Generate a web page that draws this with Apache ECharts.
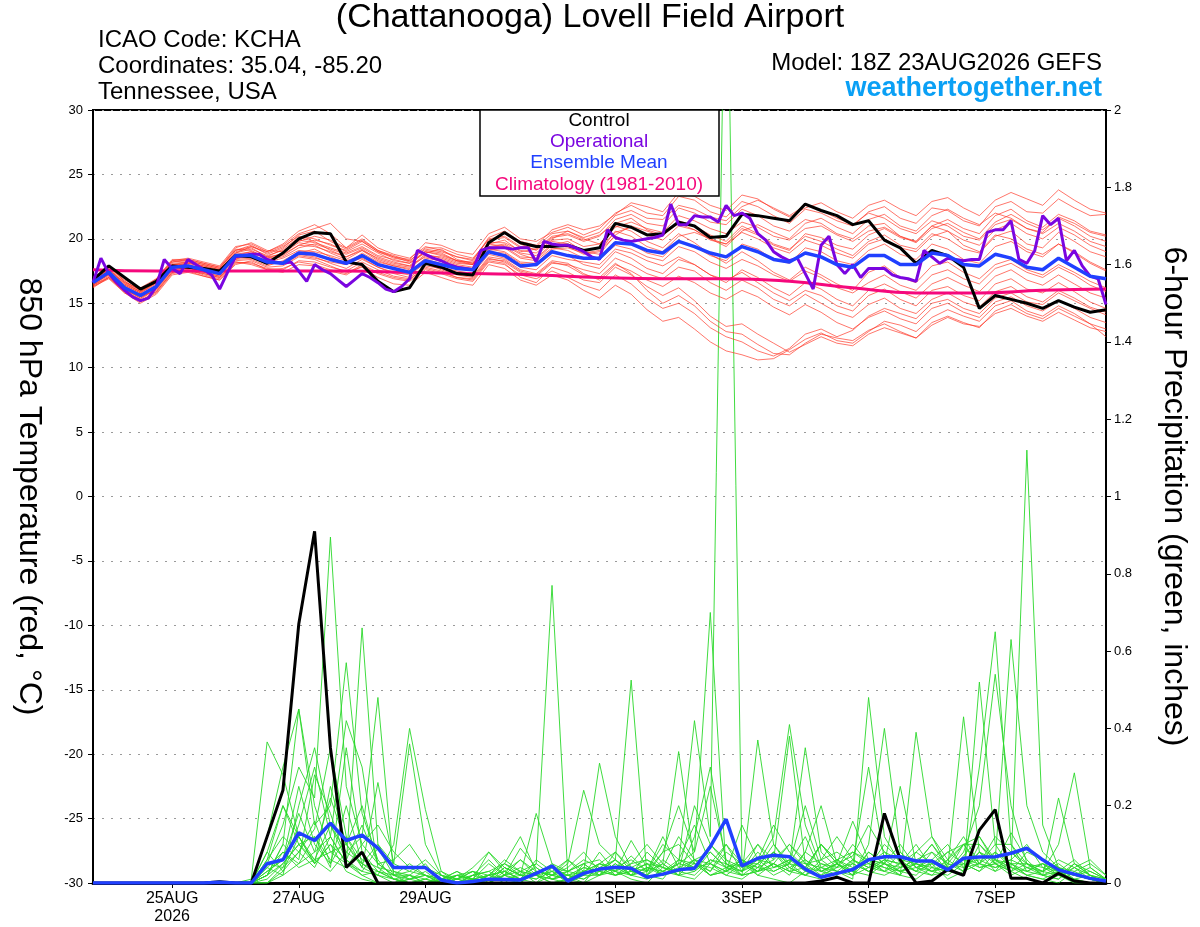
<!DOCTYPE html>
<html>
<head>
<meta charset="utf-8">
<script src="https://cdn.jsdelivr.net/npm/echarts@6/dist/echarts.min.js"></script>
<style>
html,body{margin:0;padding:0;background:#fff}
#chart{width:1200px;height:927px}
</style>
</head>
<body>
<div id="chart"></div>
<script>
// 3-hourly steps from 18Z 23AUG2026 to 18Z 08SEP2026
var stepCount = 129;
var tickSteps = [10, 26, 42, 66, 82, 98, 114];
var tickLabels = ['25AUG\n2026', '27AUG', '29AUG', '1SEP', '3SEP', '5SEP', '7SEP'];

// control run, 850 hPa temp (6-hourly)
var controlTemp = [16.8,17.9,17.0,16.1,16.7,17.9,17.8,17.7,17.5,18.7,18.6,18.1,18.9,20.0,20.5,20.4,18.2,18.0,16.7,15.9,
  16.2,18.1,17.8,17.3,17.2,19.7,20.5,19.7,19.4,19.4,19.5,19.1,19.3,21.2,20.9,20.3,20.4,21.3,21.0,20.1,
  20.2,21.9,21.8,21.6,21.4,22.7,22.2,21.8,21.1,21.4,19.9,19.3,18.1,19.1,18.7,17.8,14.6,15.6,15.3,15.0,
  14.6,15.2,14.7,14.3,14.5];

// operational run (3-hourly)
var operTemp = [16.6,18.5,17.3,16.6,16.0,15.5,15.2,15.4,16.3,18.4,17.7,17.3,18.4,18.0,17.6,17.2,16.1,17.4,18.6,18.7,
  18.8,18.8,18.4,18.2,18.1,18.2,17.5,16.7,18.0,17.6,17.3,16.8,16.3,16.8,17.3,17.0,16.6,16.1,15.9,16.3,
  16.9,19.1,18.8,18.5,18.3,18.0,17.8,17.7,17.6,19.1,19.3,19.3,19.3,19.2,19.3,19.3,18.2,19.8,19.6,19.5,
  19.5,19.3,19.0,18.6,18.4,20.7,20.1,19.9,19.8,19.9,20.0,20.1,20.3,22.7,21.1,21.1,21.8,21.7,21.7,21.3,
  22.6,21.8,22.0,21.6,20.4,19.9,19.0,18.6,18.3,18.5,17.3,16.1,19.5,20.2,18.0,17.3,18.0,17.0,17.7,17.7,
  17.7,17.2,17.0,16.9,16.7,19.1,18.6,18.1,18.5,18.4,18.3,18.4,18.4,20.5,20.7,20.7,21.4,18.4,18.1,19.1,
  21.8,21.1,21.6,18.3,19.1,17.9,17.1,16.9,14.9];

// ensemble mean temp (6-hourly)
var meanTemp = [16.6,17.4,16.2,15.6,16.3,17.8,17.9,17.6,17.3,18.7,18.7,18.2,18.1,18.9,18.8,18.4,18.1,18.7,18.0,17.7,
  17.4,18.3,18.0,17.7,17.6,19.0,18.7,17.9,18.0,19.0,18.7,18.5,18.5,19.7,19.6,19.1,18.9,19.8,19.4,18.9,
  18.6,19.4,19.0,18.4,18.2,18.9,18.6,18.0,17.8,18.7,18.7,18.0,18.0,18.9,18.7,18.0,17.9,18.8,18.5,17.8,
  17.6,18.5,17.8,17.1,16.9];

// climatology 1981-2010 (daily)
var climTemp = [17.6,17.5,17.5,17.5,17.5,17.4,17.3,17.2,17.0,16.9,16.9,16.7,16.2,15.8,15.8,16.0,16.1];

// ensemble members temp (6-hourly)
var tempMembers = [
  [16.9,17.6,16.5,15.9,16.6,18.1,18.2,17.9,17.6, 19.0,19.3,18.6,19.2,20.1,19.8,19.1,18.6,19.2,18.4,18.0,17.8,18.8,18.5,18.1,18.0, 19.6,19.9,19.0,19.2,20.1,20.3,19.8,20.2, 21.5,21.9,21.2,21.0,22.4,22.0,21.3,21.1,22.3,21.8,21.0,20.6,21.5,21.2,20.4,20.0, 21.0,21.2,20.2,19.8,21.0,20.6,19.5,19.0,20.3,20.0,19.2,18.8,19.6,18.9,18.1,17.5],
  [16.3,17.0,15.8,15.2,15.9,17.4,17.6,17.2,16.9, 18.2,18.0,17.6,17.4,18.0,17.9,17.5,17.2,17.9,17.3,16.9,16.7,17.6,17.3,16.9,16.7, 18.2,18.0,17.2,16.9,17.5,17.0,16.4,16.0, 17.2,16.5,15.4,14.6,15.0,14.2,13.1,12.4,12.0,11.3,10.9,11.5,12.6,13.0,12.4,12.9, 14.0,14.6,14.2,13.8,15.0,15.3,14.6,14.2,15.4,15.8,15.1,14.9,15.8,15.2,14.6,14.1],
  [16.8,17.9,16.7,16.0,16.8,18.3,18.5,18.2,17.9, 19.4,19.6,19.0,19.6,20.6,21.1,20.4,19.3,20.0,19.1,18.6,18.4,19.7,19.5,19.0,18.8, 20.4,20.9,20.0,19.8,20.5,20.9,20.3,20.8, 22.0,22.6,22.0,21.8,23.3,23.0,22.1,21.7,22.9,22.5,21.8,21.2,22.3,22.0,21.4,21.0, 22.1,22.5,21.6,21.2,22.4,22.2,21.4,21.0,22.5,22.9,22.1,22.0,23.1,22.4,21.8,21.9],
  [16.5,17.2,16.0,15.3,16.1,17.6,17.8,17.4,17.1, 18.6,18.8,18.3,18.0,18.7,18.5,18.2,18.0,18.9,18.2,17.9,17.6,18.2,17.8,17.5,17.3, 18.8,18.5,17.8,17.6,18.7,18.4,18.2,18.0, 19.2,18.9,18.3,17.9,18.6,18.0,17.2,16.8,17.4,16.6,15.8,15.2,16.0,15.6,14.8,14.4, 15.6,16.1,15.3,14.8,16.0,16.3,15.6,15.2,16.5,16.9,16.1,15.8,16.6,15.9,15.1,14.6],
  [16.7,17.5,16.4,15.8,16.5,18.0,18.0,17.7,17.4, 18.4,18.9,18.5,18.7,19.5,19.9,19.6,19.0,19.6,18.9,18.3,18.1,18.9,19.2,18.4,18.1, 19.3,19.5,18.8,18.4,19.5,19.8,19.0,18.8, 20.3,21.0,20.6,20.2,21.4,21.0,20.3,19.8,21.0,20.4,19.6,19.2,20.2,19.8,19.2,18.7, 19.8,20.3,19.5,19.2,20.4,20.0,19.2,18.9,20.2,20.6,19.6,19.3,20.5,19.8,19.0,18.6],
  [16.4,17.3,16.3,15.7,16.4,17.9,18.1,17.8,17.5, 18.9,19.4,19.0,19.5,20.4,20.8,21.2,20.0,19.8,19.0,18.6,18.2,19.0,18.7,18.3,18.0, 19.8,20.4,19.6,19.1,20.0,20.6,20.0,19.6, 21.0,20.6,19.8,19.3,20.4,19.7,18.8,18.1,19.0,18.3,17.4,16.8,17.8,17.2,16.5,16.0, 17.4,17.9,17.0,16.6,17.9,18.2,17.4,16.9,18.0,18.4,17.6,17.2,18.0,17.4,16.7,16.2],
  [16.2,17.0,15.9,15.1,15.8,17.3,17.5,17.1,16.8, 18.0,18.3,17.8,17.9,18.6,18.4,17.9,17.4,17.8,17.0,16.5,16.4,17.4,17.0,16.6,16.4, 18.0,17.7,16.8,16.4,17.2,16.8,16.0,15.4, 16.4,15.7,14.5,13.6,13.9,13.0,12.0,11.3,11.0,10.6,10.7,11.4,12.2,12.7,12.1,11.9, 12.8,13.6,13.3,12.8,13.9,14.5,14.0,13.6,14.8,15.2,14.4,14.0,14.8,14.2,13.4,12.4],
  [16.9,17.7,16.6,16.1,16.7,18.2,18.3,18.0,17.7, 19.2,19.1,18.5,18.9,19.7,19.5,18.9,18.4,19.1,18.5,18.1,17.9,19.1,18.9,18.3,18.1, 19.6,19.4,18.6,18.5,19.6,19.4,18.8,19.0, 20.6,20.2,19.4,19.0,20.2,20.5,20.0,19.4,20.6,21.1,20.5,20.0,21.2,21.6,20.9,20.4, 21.5,21.9,21.0,20.6,21.8,22.3,21.6,21.1,22.0,21.6,20.8,20.4,21.2,20.6,19.8,19.4],
  [16.6,17.3,16.1,15.4,16.2,17.7,17.7,17.5,17.2, 18.5,18.6,18.0,18.2,18.9,19.2,18.6,18.1,18.5,17.8,17.4,17.2,18.1,17.6,17.2,17.0, 18.5,18.2,17.4,17.1,18.1,18.0,17.6,17.3, 18.5,18.0,17.3,16.9,17.8,17.5,16.6,16.0,16.8,16.2,15.3,14.8,15.7,15.0,14.3,13.9, 14.9,15.4,14.6,14.2,15.3,15.8,15.1,14.7,15.9,16.3,15.5,15.1,16.0,15.4,14.7,14.3],
  [17.0,17.8,16.8,16.2,16.9,18.4,18.4,18.1,17.8, 19.3,19.7,19.1,19.0,19.8,20.2,19.9,19.3,20.3,19.3,18.8,18.5,19.4,19.1,18.6,18.4, 20.0,20.2,19.4,19.4,20.4,20.6,20.1,20.5, 21.8,22.2,21.6,21.5,22.6,22.3,21.7,21.4,22.5,23.0,22.4,21.8,22.6,22.2,21.6,21.1, 22.0,21.6,20.8,20.4,21.4,21.0,20.2,19.9,21.1,21.5,20.8,20.5,21.7,21.2,20.5,20.2],
  [16.4,17.1,16.0,15.5,16.0,17.5,17.6,17.3,17.0, 18.3,18.4,17.9,18.3,19.0,18.9,18.4,18.0,18.6,18.1,17.7,17.5,18.5,18.3,17.9,17.7, 19.1,19.3,18.5,18.3,19.3,19.1,18.5,18.4, 19.5,19.2,18.6,18.3,19.4,19.0,18.2,17.7,18.4,17.9,17.2,16.7,17.5,17.0,16.2,15.8, 16.6,17.2,16.4,16.0,17.2,17.6,16.9,16.5,17.7,18.1,17.4,17.0,17.8,17.2,16.4,15.9],
  [16.8,17.6,16.6,15.9,16.8,18.2,18.4,18.1,17.8, 19.1,19.5,18.8,19.3,20.3,20.6,19.8,19.2,19.9,19.1,18.7,18.3,19.2,19.0,18.6,18.3, 20.1,20.6,19.8,19.5,20.7,21.1,20.7,21.0, 21.9,22.8,22.5,22.1,23.6,23.3,22.6,22.2,23.4,23.1,22.3,21.7,22.4,22.8,22.1,21.6, 22.6,23.0,22.3,21.8,22.9,23.2,22.4,21.8,23.0,23.6,23.1,22.6,23.8,23.0,22.3,22.0],
  [16.3,16.9,15.8,15.0,15.7,17.2,17.4,17.1,16.8, 18.1,18.2,17.6,17.7,18.2,18.0,17.6,17.3,18.0,17.4,17.0,16.8,17.8,17.5,17.0,16.8, 18.3,18.1,17.0,16.6,17.8,17.4,16.8,16.6, 17.8,17.2,16.3,15.6,16.2,15.2,14.0,13.2,13.4,12.6,11.9,11.2,11.8,12.4,11.9,11.7, 12.6,13.1,12.7,12.3,13.5,14.0,13.5,13.1,14.4,14.9,14.2,13.8,14.6,14.0,13.4,13.0],
  [16.6,17.5,16.3,15.6,16.4,17.9,17.8,17.5,17.3, 18.7,19.0,18.4,18.6,19.3,19.6,19.2,18.8,19.3,18.6,18.2,17.9,18.6,18.4,18.0,17.8, 19.2,19.0,18.2,18.1,19.2,19.3,18.9,19.1, 20.2,19.6,18.9,18.6,19.8,19.4,18.7,18.3,19.6,19.2,18.4,18.1,19.3,19.0,18.3,18.0, 19.1,19.6,18.8,18.4,19.6,19.2,18.4,18.1,19.4,19.8,19.0,18.6,19.6,19.0,18.2,17.6],
  [16.5,17.2,16.1,15.4,16.1,17.6,17.7,17.4,17.1, 18.4,18.5,18.1,18.1,18.8,18.6,18.1,17.7,18.4,17.8,17.3,17.0,17.9,17.7,17.3,17.1, 18.6,18.4,17.6,17.3,18.3,18.1,17.3,16.8, 18.0,17.5,16.8,16.3,17.1,16.6,15.8,15.3,16.0,15.5,14.7,14.1,14.9,14.3,13.5,13.0, 13.9,14.4,13.8,13.4,14.6,15.0,14.3,13.9,15.1,15.5,14.8,14.4,15.2,14.6,13.9,13.5],
  [16.7,17.4,16.4,15.8,16.6,18.0,18.1,17.9,17.6, 18.9,19.2,18.7,19.1,19.9,19.7,19.3,18.9,19.4,18.7,18.4,18.1,19.0,18.8,18.3,18.2, 19.7,19.7,19.1,18.9,19.9,20.0,19.4,19.6, 20.9,21.3,20.8,20.5,21.8,21.4,20.8,20.4,21.3,20.9,20.2,19.9,20.8,21.0,20.3,19.8, 20.6,20.9,20.2,19.7,20.8,21.2,20.5,20.0,21.3,21.9,21.2,20.7,21.6,21.0,20.2,19.8],
  [16.4,17.0,15.9,15.2,15.9,17.4,17.5,17.3,17.0, 18.2,18.1,17.7,17.6,18.3,18.2,17.8,17.5,18.2,17.6,17.1,16.9,17.7,17.4,17.0,16.9, 18.4,18.3,17.5,17.2,18.2,17.9,17.2,17.0, 18.1,17.3,16.0,15.0,15.6,14.8,13.6,12.8,12.6,11.8,11.1,11.0,11.9,12.6,12.3,12.1, 12.9,13.4,12.8,12.3,13.3,13.9,13.4,13.2,14.2,14.6,14.0,13.6,14.3,13.7,13.1,12.8],
  [16.9,17.8,16.7,16.0,16.9,18.3,18.3,18.0,17.7, 19.1,19.4,18.9,19.4,20.2,20.0,19.5,19.1,19.8,19.0,18.5,18.3,19.3,19.3,18.8,18.5, 19.9,20.1,19.3,19.2,20.2,20.4,19.9,20.3, 21.2,21.6,20.7,20.3,21.2,20.7,19.9,19.6,20.8,20.3,19.5,19.1,20.4,20.1,19.5,19.2, 20.3,20.8,20.1,19.8,21.0,21.5,20.8,20.4,21.8,22.3,21.4,20.9,21.9,21.4,20.6,20.3],
  [16.6,17.3,16.2,15.6,16.3,17.8,17.8,17.6,17.3, 18.8,18.7,18.2,18.5,19.1,19.0,18.7,18.3,18.7,18.0,17.7,17.4,18.4,18.1,17.8,17.6, 19.0,18.9,18.1,17.9,18.9,18.7,18.0,17.7, 19.0,18.5,17.7,17.3,18.4,18.0,17.2,16.6,17.6,17.0,16.2,15.6,16.6,16.1,15.3,14.8, 16.0,16.5,15.9,15.4,16.5,17.0,16.4,15.9,17.1,17.6,16.8,16.4,17.2,16.5,15.8,15.4],
  [16.7,17.6,16.5,15.9,16.6,18.0,18.2,17.8,17.5, 18.8,19.0,18.6,18.8,19.5,19.4,19.0,18.6,19.1,18.3,17.9,17.7,18.7,18.6,18.2,18.0, 19.4,19.6,18.9,18.7,19.8,19.6,19.1,19.3, 20.5,20.9,20.3,19.9,21.0,20.7,20.0,19.6,20.5,20.0,19.3,18.9,19.9,19.5,18.9,18.5, 19.6,20.0,19.3,19.0,20.2,20.6,19.9,19.5,20.7,21.2,20.4,20.0,20.9,20.3,19.5,19.0]
];

// 6-hour precipitation, inches (6-hourly)
var controlPrecip = [0,0,0,0,0,0,0,0,0.003,0, 0,0.12,0.24,0.67,0.91,0.35,0.04,0.08,0,0, 0,0,0,0,0,0,0,0,0,0,
  0,0,0,0,0,0,0,0,0,0, 0,0,0,0,0,0,0.005,0.015,0,0, 0.18,0.06,0,0.005,0.035,0.02,0.137,0.19,0.012,0.012, 0,0.025,0.005,0,0];
var meanPrecip = [0,0,0,0,0,0,0,0,0.002,0, 0,0.05,0.06,0.13,0.11,0.155,0.11,0.124,0.09,0.04, 0.04,0.04,0.008,0,0.004,0.01,0.009,0.008,0.025,0.044,
  0.005,0.025,0.036,0.041,0.038,0.015,0.023,0.034,0.038,0.094, 0.165,0.044,0.064,0.072,0.068,0.036,0.015,0.025,0.035,0.06,
  0.068,0.068,0.057,0.057,0.034,0.064,0.067,0.068,0.077,0.09, 0.06,0.034,0.023,0.012,0.005];

var precipMembers = [
  [0,0,0,0,0,0,0,0,0,0, 0,0.12,0.30,0.45,0.20,0.08,0.05,0.02,0,0, 0.01,0.03,0,0,0.02,0.06,0.02,0,0.05,0.77, 0.02,0,0.05,0.03,0.01,0,0.04,0.12,0.06,0.02, 0.03,0.05,0.02,0.01,0,0.03,0.10,0.05,0.02,0.06, 0.04,0.02,0.08,0.05,0.01,0.03,0.05,0.10,0.04,0.02, 0.01,0,0.03,0.01,0],
  [0,0,0,0,0,0,0,0,0.005,0, 0,0.05,0.15,0.30,0.22,0.895,0.25,0.10,0.05,0.02, 0,0,0.01,0.03,0,0,0.04,0.02,0.18,0.05, 0.01,0.02,0.08,0.03,0.11,0.04,0.02,0.05,0.42,0.12, 2.6,0.05,0.03,0.08,0.04,0.02,0.01,0.05,0.03,0.08, 0.05,0.02,0.01,0.04,0.03,0.07,0.12,0.05,0.03,0.01, 0,0.02,0,0,0],
  [0,0,0,0,0,0,0,0,0,0, 0.01,0.365,0.28,0.12,0.05,0.10,0.03,0.01,0,0, 0.02,0,0,0.01,0.04,0.08,0.03,0.01,0,0.02, 0.05,0.24,0.10,0.06,0.03,0.02,0.08,0.20,0.08,0.70, 0.03,0.02,0.37,0.10,0.04,0.02,0.05,0.03,0.01,0.48, 0.12,0.05,0.03,0.02,0.06,0.10,0.05,0.03,0.08,0.04, 0.02,0.01,0.05,0.02,0],
  [0,0,0,0,0,0,0,0,0,0, 0,0.02,0.10,0.45,0.15,0.20,0.57,0.18,0.06,0.01, 0,0,0,0.02,0.01,0,0.03,0.06,0.02,0, 0.01,0.03,0.31,0.12,0.04,0.06,0.03,0.02,0.01,0.05, 0.10,0.03,0.05,0.12,0.41,0.15,0.04,0.02,0.06,0.03, 0.05,0.10,0.04,0.02,0.03,0.08,0.20,0.54,0.20,0.05, 0.02,0.04,0.01,0,0],
  [0,0,0,0,0,0,0,0,0,0, 0,0,0.04,0.15,0.30,0.12,0.05,0.66,0.10,0.03, 0.01,0.02,0,0,0.01,0.02,0.05,0.03,0,0.04, 0.02,0.01,0.03,0.06,0.525,0.02,0.01,0.06,0.15,0.05, 0.02,0.01,0.04,0.03,0.05,0.20,0.06,0.03,0.02,0.10, 0.40,0.08,0.04,0.03,0.02,0.05,0.03,0.08,0.04,1.12, 0.15,0.04,0.02,0.01,0],
  [0,0,0,0,0,0,0,0,0,0, 0,0.08,0.20,0.12,0.06,0.15,0.08,0.12,0.48,0.02, 0.05,0.02,0,0.01,0.03,0,0.02,0.09,0.04,0.01, 0,0.02,0.05,0.03,0.07,0.03,0.12,0.04,0.03,0.06, 0.04,0.03,0.10,0.06,0.38,0.05,0.02,0.04,0.08,0.06, 0.03,0.02,0.39,0.12,0.04,0.02,0.10,0.05,0.02,0.04, 0.03,0.10,0.285,0.04,0.01],
  [0,0,0,0,0,0,0,0,0,0, 0,0.03,0.06,0.25,0.10,0.05,0.20,0.05,0.02,0.10, 0.40,0.19,0.03,0.01,0,0.02,0.01,0,0.03,0.02, 0.01,0,0.02,0.05,0.02,0.01,0.03,0.05,0.08,0.25, 0.06,0.02,0.05,0.08,0.03,0.02,0.04,0.06,0.03,0.02, 0.05,0.03,0.02,0.06,0.04,0.43,0.08,0.03,0.05,0.02, 0.01,0.03,0.02,0.04,0.01],
  [0,0,0,0,0,0,0,0,0,0, 0,0.01,0.05,0.10,0.05,0.25,0.10,0.04,0.26,0.05, 0.03,0.06,0.02,0,0.01,0.08,0.04,0.02,0.01,0.03, 0.06,0.02,0.04,0.02,0.03,0.05,0.02,0.03,0.20,0.10, 0.05,0.03,0.06,0.15,0.08,0.04,0.10,0.05,0.16,0.06, 0.05,0.04,0.06,0.08,0.03,0.10,0.10,0.06,0.63,0.20, 0.08,0.04,0.02,0.01,0],
  [0,0,0,0,0,0,0,0,0,0, 0,0.02,0.08,0.05,0.12,0.04,0.35,0.08,0.03,0.01, 0,0.01,0.03,0,0,0.01,0.05,0.12,0.03,0.02, 0.04,0.08,0.03,0.02,0.05,0.10,0.05,0.34,0.05,0.02, 0.03,0.06,0.02,0.05,0.03,0.08,0.20,0.05,0.03,0.06, 0.05,0.25,0.05,0.03,0.04,0.02,0.52,0.10,0.10,0.03, 0.05,0.02,0.01,0,0],
  [0,0,0,0,0,0,0,0,0,0, 0,0.04,0.02,0.20,0.35,0.15,0.06,0.03,0.09,0.02, 0.02,0.05,0,0.02,0.01,0.02,0,0.03,0.02,0.05, 0.03,0.05,0.02,0.08,0.04,0.02,0.06,0.03,0.05,0.03, 0.08,0.05,0.04,0.10,0.05,0.12,0.03,0.02,0.05,0.30, 0.06,0.03,0.05,0.10,0.05,0.03,0.08,0.05,0.13,0.06, 0.02,0.22,0.05,0.02,0],
  [0,0,0,0,0,0,0,0,0,0, 0,0.06,0.12,0.08,0.04,0.12,0.42,0.30,0.04,0.01, 0,0,0.01,0.02,0,0,0.02,0.01,0.06,0.03, 0,0.05,0.02,0.03,0.02,0.08,0.04,0.02,0.12,0.30, 0.05,0.02,0.03,0.05,0.10,0.06,0.03,0.05,0.02,0.04, 0.03,0.05,0.08,0.12,0.06,0.03,0.30,0.65,0.10,0.05, 0.02,0.01,0.04,0.06,0.02],
  [0,0,0,0,0,0,0,0,0,0, 0,0.02,0.05,0.10,0.06,0.03,0.08,0.05,0.10,0.05, 0.36,0.10,0.02,0.01,0.03,0.01,0.02,0.04,0.02,0.01, 0.02,0.03,0.05,0.04,0.02,0.03,0.10,0.06,0.04,0.05, 0.03,0.15,0.06,0.03,0.05,0.04,0.03,0.05,0.07,0.15, 0.08,0.06,0.03,0.05,0.04,0.06,0.05,0.08,0.05,0.03, 0.05,0.03,0.06,0.02,0.01],
  [0,0,0,0,0,0,0,0,0,0, 0,0,0.02,0.05,0.08,0.12,0.05,0.03,0.02,0.01, 0,0.01,0,0,0.02,0.03,0.01,0.02,0.04,0.01, 0.02,0.01,0.04,0.06,0.03,0.02,0.05,0.02,0.03,0.08, 0.04,0.02,0.03,0.05,0.02,0.08,0.05,0.04,0.10,0.05, 0.03,0.08,0.04,0.06,0.10,0.04,0.05,0.12,0.08,0.05, 0.03,0.05,0.02,0.01,0],
  [0,0,0,0,0,0,0,0,0,0, 0,0.03,0.06,0.18,0.08,0.22,0.10,0.05,0.03,0.02, 0.01,0,0.02,0.01,0,0.02,0.03,0.01,0.02,0, 0.01,0.03,0.02,0.05,0.02,0.04,0.03,0.06,0.05,0.04, 0.02,0.05,0.03,0.04,0.06,0.03,0.02,0.06,0.04,0.05, 0.08,0.04,0.05,0.03,0.06,0.12,0.05,0.04,0.06,0.10, 0.04,0.02,0.05,0.03,0.01],
  [0,0,0,0,0,0,0,0,0,0, 0,0.05,0.04,0.08,0.16,0.05,0.12,0.06,0.04,0.03, 0.02,0.01,0,0.02,0.01,0.05,0.02,0.06,0.03,0.02, 0.06,0.03,0.05,0.08,0.03,0.05,0.04,0.03,0.02,0.06, 0.05,0.03,0.08,0.04,0.05,0.02,0.06,0.08,0.05,0.03, 0.06,0.05,0.10,0.04,0.03,0.06,0.04,0.05,0.03,0.08, 0.06,0.04,0.03,0.05,0.02],
  [0,0,0,0,0,0,0,0,0,0, 0,0.08,0.03,0.12,0.05,0.10,0.06,0.15,0.05,0.02, 0.03,0.02,0.01,0,0.02,0.03,0.05,0.02,0.01,0.04, 0.03,0.05,0.06,0.02,0.04,0.03,0.05,0.02,0.06,0.03, 0.10,0.05,0.05,0.02,0.04,0.06,0.03,0.05,0.02,0.08, 0.05,0.03,0.04,0.05,0.08,0.05,0.03,0.06,0.05,0.02, 0.03,0.06,0.04,0.02,0.01],
  [0,0,0,0,0,0,0,0,0,0, 0,0.02,0.10,0.06,0.28,0.18,0.06,0.02,0.03,0.01, 0.02,0,0.01,0.03,0.01,0.02,0.06,0.03,0.02,0.01, 0.03,0.02,0.02,0.04,0.06,0.03,0.08,0.10,0.05,0.02, 0.04,0.06,0.03,0.08,0.05,0.35,0.08,0.04,0.05,0.03, 0.02,0.04,0.06,0.03,0.05,0.10,0.12,0.06,0.04,0.03, 0.02,0.03,0.01,0.02,0],
  [0,0,0,0,0,0,0,0,0,0, 0,0,0.03,0.08,0.14,0.35,0.12,0.04,0.02,0, 0.01,0.02,0,0.01,0.02,0.01,0.04,0.02,0.02,0.03, 0.02,0.04,0.03,0.06,0.02,0.04,0.03,0.05,0.04,0.10, 0.06,0.04,0.06,0.05,0.03,0.04,0.10,0.06,0.08,0.05, 0.04,0.03,0.05,0.10,0.04,0.05,0.06,0.04,0.05,0.05, 0.03,0.02,0.04,0.01,0],
  [0,0,0,0,0,0,0,0,0,0, 0,0.04,0.08,0.04,0.06,0.08,0.10,0.20,0.05,0.06, 0.10,0.04,0.02,0,0.01,0,0.02,0.03,0.05,0.02, 0.03,0.06,0.04,0.03,0.05,0.06,0.04,0.03,0.06,0.08, 0.04,0.05,0.10,0.04,0.06,0.05,0.04,0.03,0.06,0.04, 0.06,0.05,0.03,0.08,0.05,0.04,0.08,0.06,0.03,0.05, 0.04,0.03,0.02,0.03,0.01],
  [0,0,0,0,0,0,0,0,0,0, 0,0.06,0.20,0.10,0.12,0.06,0.04,0.10,0.15,0.08, 0.04,0.02,0.01,0.02,0.03,0.02,0.03,0.01,0.03,0.02, 0.01,0.04,0.03,0.02,0.03,0.05,0.02,0.04,0.06,0.05, 0.03,0.06,0.04,0.06,0.10,0.05,0.06,0.12,0.06,0.04, 0.10,0.06,0.05,0.04,0.08,0.10,0.04,0.05,0.06,0.04, 0.05,0.03,0.02,0.01,0]
];

var FONT = "'Liberation Sans', Arial, Helvetica, sans-serif";

var steps = [];
for (var k = 0; k < stepCount; k++) steps.push(String(k));

function isTick(idx) { return tickSteps.indexOf(idx) >= 0; }
// 6-hourly values sit on every second 3-hourly step
function sixHourly(arr) { return arr.map(function (v, i) { return [2 * i, v]; }); }
function daily(arr) { return arr.map(function (v, i) { return [8 * i, v]; }); }

var series = [];
precipMembers.forEach(function (m) {
  series.push({ type: 'line', yAxisIndex: 1, data: sixHourly(m), symbol: 'none', silent: true, z: 2,
    lineStyle: { color: '#2ad82a', width: 0.9 } });
});
tempMembers.forEach(function (m) {
  series.push({ type: 'line', yAxisIndex: 0, data: sixHourly(m), symbol: 'none', silent: true, z: 3,
    lineStyle: { color: 'rgba(255,50,35,0.75)', width: 0.9 } });
});
series.push({ name: 'Climatology', type: 'line', yAxisIndex: 0, data: daily(climTemp), smooth: true, symbol: 'none', z: 4,
  lineStyle: { color: '#f5087c', width: 3 } });
series.push({ name: 'Control', type: 'line', yAxisIndex: 0, data: sixHourly(controlTemp), symbol: 'none', z: 5,
  lineStyle: { color: '#000', width: 3 } });
series.push({ name: 'Control precip', type: 'line', yAxisIndex: 1, data: sixHourly(controlPrecip), symbol: 'none', z: 5,
  lineStyle: { color: '#000', width: 3 } });
series.push({ name: 'Operational', type: 'line', yAxisIndex: 0, data: operTemp.map(function (v, i) { return [i, v]; }), symbol: 'none', z: 6,
  lineStyle: { color: '#7a05e0', width: 3 } });
series.push({ name: 'Ensemble Mean', type: 'line', yAxisIndex: 0, data: sixHourly(meanTemp), symbol: 'none', z: 7,
  lineStyle: { color: '#2040ff', width: 3.5 } });
series.push({ name: 'Ensemble Mean precip', type: 'line', yAxisIndex: 1, data: sixHourly(meanPrecip), symbol: 'none', z: 7,
  lineStyle: { color: '#2040ff', width: 3.5 } });

function txt(x, y, s, font, fill, align) {
  return { type: 'text', z: 100, silent: true,
    style: { x: x, y: y, text: s, font: font, fill: fill, textAlign: align, align: align,
      textVerticalAlign: 'middle', verticalAlign: 'middle' } };
}

var legendBox = { type: 'rect', z: 99, silent: true,
  shape: { x: 480, y: 110, width: 239, height: 86 },
  style: { fill: '#fff', stroke: '#000', lineWidth: 1.5 } };

var option = {
  animation: false,
  backgroundColor: '#fff',
  grid: { left: 93, right: 94, top: 110, bottom: 44, show: true, borderColor: '#000', borderWidth: 2,
    containLabel: false, outerBoundsMode: 'none' },
  xAxis: {
    type: 'category', data: steps, boundaryGap: false,
    axisLine: { onZero: false, lineStyle: { color: '#000', width: 3 } },
    axisTick: { interval: isTick, length: 5, lineStyle: { color: '#000', width: 1 } },
    axisLabel: { interval: isTick, color: '#000', fontSize: 16, fontFamily: FONT, margin: 7, lineHeight: 18,
      formatter: function (v, idx) { var p = tickSteps.indexOf(idx); return p >= 0 ? tickLabels[p] : ''; } },
    splitLine: { show: false }
  },
  yAxis: [{
    type: 'value', min: -30, max: 30, interval: 5, position: 'left',
    name: '850 hPa Temperature (red, °C)', nameLocation: 'middle', nameGap: 48, nameRotate: -90,
    nameTextStyle: { fontSize: 32, fontFamily: FONT, color: '#000' },
    axisLine: { show: true, lineStyle: { color: '#000', width: 2 } },
    axisTick: { show: true, length: 5, lineStyle: { color: '#000' } },
    axisLabel: { color: '#000', fontSize: 13, fontFamily: FONT, margin: 10 },
    splitLine: { show: true, lineStyle: { color: '#9a9a9a', type: [2, 7], width: 1 } }
  }, {
    type: 'value', min: 0, max: 2, interval: 0.2, position: 'right',
    name: '6-hour Precipitation (green, inches)', nameLocation: 'middle', nameGap: 52, nameRotate: -90,
    nameTextStyle: { fontSize: 32, fontFamily: FONT, color: '#000' },
    axisLine: { show: true, lineStyle: { color: '#000', width: 2 } },
    axisTick: { show: true, length: 5, lineStyle: { color: '#000' } },
    axisLabel: { color: '#000', fontSize: 13, fontFamily: FONT, margin: 8 },
    splitLine: { show: false }
  }],
  series: series,
  graphic: [
    txt(590, 18, '(Chattanooga) Lovell Field Airport', 'normal 34px ' + FONT, '#000', 'center'),
    txt(98, 40, 'ICAO Code: KCHA', 'normal 24px ' + FONT, '#000', 'left'),
    txt(98, 66, 'Coordinates: 35.04, -85.20', 'normal 24px ' + FONT, '#000', 'left'),
    txt(98, 92, 'Tennessee, USA', 'normal 24px ' + FONT, '#000', 'left'),
    txt(1102, 63, 'Model: 18Z 23AUG2026 GEFS', 'normal 24px ' + FONT, '#000', 'right'),
    txt(1102, 89, 'weathertogether.net', 'bold 27px ' + FONT, '#0aa0f5', 'right'),
    legendBox,
    txt(599, 121, 'Control', 'normal 19px ' + FONT, '#000', 'center'),
    txt(599, 142, 'Operational', 'normal 19px ' + FONT, '#7a05e0', 'center'),
    txt(599, 163, 'Ensemble Mean', 'normal 19px ' + FONT, '#2040ff', 'center'),
    txt(599, 185, 'Climatology (1981-2010)', 'normal 19px ' + FONT, '#f5087c', 'center')
  ]
};

var chart = echarts.init(document.getElementById('chart'));
chart.setOption(option);
</script>
</body>
</html>
